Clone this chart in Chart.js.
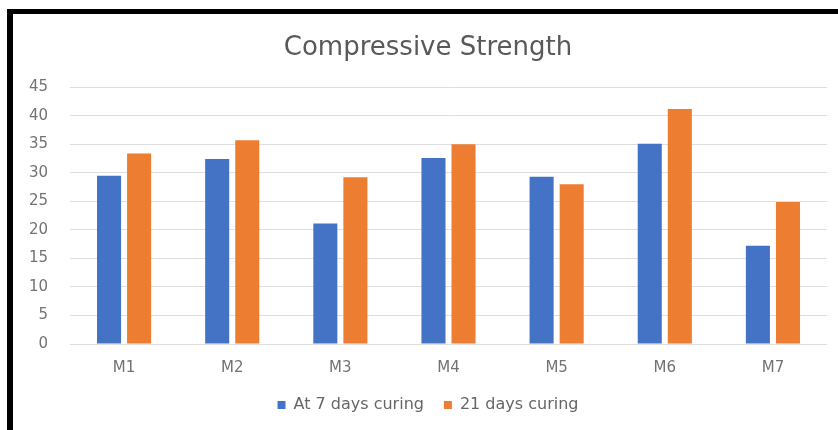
<!DOCTYPE html>
<html>
<head>
<meta charset="utf-8">
<script src="https://cdn.jsdelivr.net/npm/chart.js@4.4.1/dist/chart.umd.min.js"></script>
<style>
  html, body { margin: 0; padding: 0; background: #fff; }
  #wrap { position: relative; width: 838px; height: 430px; overflow: hidden; }
  #frame { position: absolute; left: 7px; top: 9px; width: 900px; height: 500px;
           border-left: 6px solid #000; border-top: 5px solid #000; box-sizing: border-box; }
  canvas { position: absolute; left: 0; top: 0; }
</style>
</head>
<body>
<div id="wrap">
  <canvas id="chart" width="838" height="430"></canvas>
  <div id="frame"></div>
</div>
<script>
(function(){
  const mixes = ['M1', 'M2', 'M3', 'M4', 'M5', 'M6', 'M7'];
  const day7 = [29.5, 32.4, 21.1, 32.6, 29.3, 35.1, 17.2];
  const day21 = [33.4, 35.7, 29.2, 35.0, 28.0, 41.2, 24.9];
  const yTicks = [0, 5, 10, 15, 20, 25, 30, 35, 40, 45];

  const font = '"DejaVu Sans", sans-serif';
  const ctx = document.getElementById('chart').getContext('2d');

  new Chart(ctx, {
    type: 'bar',
    data: {
      labels: mixes,
      datasets: [
        { label: 'At 7 days curing', data: day7, backgroundColor: '#4472C4',
          categoryPercentage: 0.556, barPercentage: 0.8 },
        { label: '21 days curing', data: day21, backgroundColor: '#ED7D31',
          categoryPercentage: 0.556, barPercentage: 0.8 }
      ]
    },
    options: {
      animation: false,
      responsive: false,
      layout: { padding: { left: 29, right: 11, top: 33, bottom: 7 } },
      plugins: {
        title: {
          display: true,
          text: 'Compressive Strength',
          color: '#595959',
          font: { family: font, size: 26, weight: 'normal' },
          padding: { top: 0, bottom: 23 }
        },
        legend: {
          position: 'bottom',
          labels: {
            color: '#666666',
            font: { family: font, size: 16 },
            boxWidth: 8, boxHeight: 8,
            padding: 20
          }
        },
        tooltip: { enabled: false }
      },
      scales: {
        x: {
          // category labels sit right under the zero line
          afterFit: axis => { axis.height = 33; },
          grid: { display: false },
          border: { display: false },
          ticks: { color: '#737373', font: { family: font, size: 15 }, padding: 7 }
        },
        y: {
          min: 0, max: 45,
          afterBuildTicks: axis => { axis.ticks = yTicks.map(v => ({ value: v })); },
          // fixed axis width: widest label plus the gap to the grid
          afterFit: axis => { axis.width = 41; },
          grid: { color: '#dedede', drawTicks: false },
          border: { display: false },
          ticks: { color: '#737373', font: { family: font, size: 15 }, padding: 22 }
        }
      }
    }
  });
})();
</script>
</body>
</html>
